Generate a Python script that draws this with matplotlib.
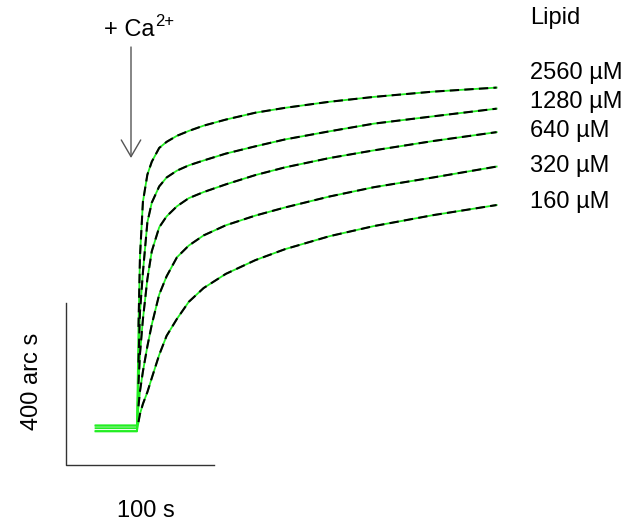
import matplotlib
matplotlib.use("Agg")
import matplotlib.pyplot as plt

plt.rcParams['font.family'] = ['Liberation Sans', 'DejaVu Sans']

# time after Ca2+ addition (s)
t = [0, 1, 2, 4, 7, 10, 15, 20, 27, 35, 45, 60, 80, 100, 130, 160, 200, 243]

# signal above baseline (arc s), one trace per lipid concentration
sig_2560 = [0, 244, 417, 553, 620, 652, 686, 701, 716, 728, 741, 756, 773, 785, 800, 812, 825, 835]
sig_1280 = [0, 170, 294, 393, 516, 565, 605, 627, 644, 657, 669, 686, 704, 721, 741, 760, 778, 797]
sig_640 = [0, 109, 183, 269, 368, 437, 496, 523, 548, 568, 583, 602, 625, 644, 667, 686, 709, 731]
sig_320 = [0, 47, 84, 133, 195, 249, 323, 368, 415, 444, 469, 494, 518, 538, 565, 588, 612, 639]
sig_160 = [0, 22, 42, 67, 96, 131, 188, 235, 277, 319, 353, 388, 422, 449, 481, 506, 533, 558]

traces = [sig_2560, sig_1280, sig_640, sig_320, sig_160]
labels = ['2560 µM', '1280 µM', '640 µM', '320 µM', '160 µM']
baseline = [8, -6, 2, 9, -5]
t_pre = -28

# scale bar sizes
bar_t = 100
bar_sig = 400
bar_origin = (-48, -89)

W, H = 631, 527
fig = plt.figure(figsize=(W / 100, H / 100), dpi=100)
ax = fig.add_axes([0, 0, 1, 1])
ax.set_xlim(-92.57, 333.8)
ax.set_ylim(-242.0, 1059.3)
ax.axis('off')

green = '#22ee22'
for sig, b in zip(traces, baseline):
    xs = [t_pre] + t
    ys = [b] + [b + v for v in sig]
    ax.plot(xs, ys, color=green, lw=1.3, zorder=2)
    ax.plot(t[1:], [b + v for v in sig[1:]], color='black', lw=1.5,
            dashes=(4.5, 2.5), zorder=3)

x0, y0 = bar_origin
ax.plot([x0, x0, x0 + bar_t], [y0 + bar_sig, y0, y0], color='#333333', lw=1.0)


def fpos(x, y):
    return x / W, 1 - y / H


fs = 17
fig.text(*fpos(32, 381), '400 arc s', rotation=90, ha='center', va='center', fontsize=fs)
fig.text(*fpos(146, 511), '100 s', ha='center', va='center', fontsize=fs)
fig.text(*fpos(155, 30), '+ Ca', ha='right', va='center', fontsize=fs)
fig.text(*fpos(155, 21), '2+', ha='left', va='center', fontsize=12)
ax.annotate('', xy=fpos(131, 158), xytext=fpos(131, 47),
            xycoords='figure fraction', textcoords='figure fraction',
            arrowprops=dict(arrowstyle='->,head_length=1.2,head_width=0.7',
                            color='#555555', lw=1.0, shrinkA=0, shrinkB=0))

fig.text(*fpos(530, 18), 'Lipid', ha='left', va='center', fontsize=fs)
for lab, yy in zip(labels, [73, 102, 131, 166, 202]):
    fig.text(*fpos(530, yy), lab, ha='left', va='center', fontsize=fs)

fig.savefig('out.png', dpi=100)
